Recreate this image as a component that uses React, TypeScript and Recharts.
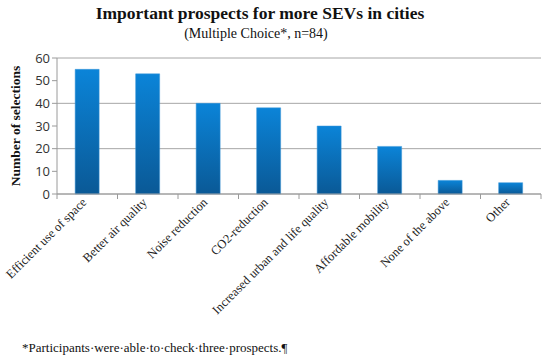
import { Bar, BarChart, CartesianGrid, XAxis, YAxis } from "recharts"

const categories = [
  "Efficient use of space",
  "Better air quality",
  "Noise reduction",
  "CO2-reduction",
  "Increased urban and life quality",
  "Affordable mobility",
  "None of the above",
  "Other",
]
const selections = [55, 53, 40, 38, 30, 21, 6, 5]
const yTicks = [0, 10, 20, 30, 40, 50, 60]

const data = categories.map((name, i) => ({ name, value: selections[i] }))

const W = 550
const H = 363
const LEFT = 57
const RIGHT = 9
const band = (W - LEFT - RIGHT) / categories.length

const serif = "'Liberation Serif', 'DejaVu Serif', serif"

function CategoryTick(props: any) {
  const { x, y, payload, index } = props
  return (
    <g>
      <line x1={x - band / 2} x2={x - band / 2} y1={y - 8} y2={y - 3} stroke="#9a9a9a" />
      {index === categories.length - 1 && (
        <line x1={x + band / 2} x2={x + band / 2} y1={y - 8} y2={y - 3} stroke="#9a9a9a" />
      )}
      <text
        x={x}
        y={y + 1}
        textAnchor="end"
        transform={`rotate(-45, ${x}, ${y + 1})`}
        fontFamily={serif}
        fontSize={12.5}
        fill="#222"
      >
        {payload.value}
      </text>
    </g>
  )
}

export default function App() {
  return (
    <div style={{ position: "absolute", left: 0, top: 0, width: W, height: H, background: "#fff" }}>
      <BarChart
        width={W}
        height={H}
        data={data}
        margin={{ top: 58, right: RIGHT, bottom: 0, left: 0 }}
        barCategoryGap="30%"
      >
        <defs>
          <linearGradient id="barFill" x1="0" y1="0" x2="0" y2="1">
            <stop offset="0%" stopColor="#0b84d8" />
            <stop offset="100%" stopColor="#0a5996" />
          </linearGradient>
        </defs>
        <CartesianGrid vertical={false} stroke="#a6a6a6" />
        <XAxis
          dataKey="name"
          interval={0}
          height={169}
          stroke="#9a9a9a"
          tickLine={false}
          tick={<CategoryTick />}
        />
        <YAxis
          width={LEFT}
          domain={[0, 60]}
          ticks={yTicks}
          stroke="#9a9a9a"
          tickSize={5}
          tick={{ fill: "#333", fontSize: 13, fontFamily: "'Open Sans', sans-serif" }}
        />
        <Bar dataKey="value" fill="url(#barFill)" stroke="#3d97d8" strokeWidth={0.5} isAnimationActive={false} />
      </BarChart>
      <div
        style={{
          position: "absolute",
          left: 0,
          top: 3,
          width: 520,
          textAlign: "center",
          fontFamily: serif,
          fontWeight: "bold",
          fontSize: 17.5,
          color: "#111",
        }}
      >
        Important prospects for more SEVs in cities
      </div>
      <div
        style={{
          position: "absolute",
          left: 0,
          top: 26,
          width: 512,
          textAlign: "center",
          fontFamily: serif,
          fontSize: 14,
          color: "#111",
        }}
      >
        (Multiple Choice*, n=84)
      </div>
      <div
        style={{
          position: "absolute",
          left: 6,
          top: 126,
          transform: "translate(-50%, -50%) rotate(-90deg)",
          marginLeft: 10,
          whiteSpace: "nowrap",
          fontFamily: serif,
          fontWeight: "bold",
          fontSize: 13.5,
          color: "#111",
        }}
      >
        Number of selections
      </div>
      <div
        style={{
          position: "absolute",
          left: 22,
          top: 340,
          fontFamily: serif,
          fontSize: 13,
          color: "#111",
          whiteSpace: "nowrap",
        }}
      >
        *Participants·were·able·to·check·three·prospects.¶
      </div>
    </div>
  )
}
